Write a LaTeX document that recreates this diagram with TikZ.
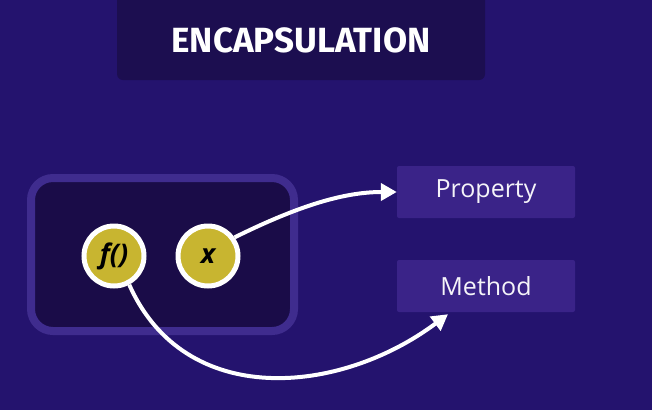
\documentclass[tikz,border=0pt]{standalone}
\usepackage{fontspec}
\setmainfont{Open Sans}
\newfontfamily\titlefont{Fira Sans}
\usetikzlibrary{arrows.meta,calc}
\definecolor{bgpurple}{HTML}{24136E}
\definecolor{darkbox}{HTML}{1C0E50}
\definecolor{innerbox}{HTML}{1A0C48}
\definecolor{framecol}{HTML}{3F2C8E}
\definecolor{labelbox}{HTML}{3A2388}
\definecolor{gold}{HTML}{C8B530}
\tikzset{
  dot/.style={circle, draw=white, line width=5pt, fill=gold, minimum size=60pt, inner sep=0pt,
    font=\fontsize{27}{27}\selectfont\bfseries\itshape, text=black},
  labelnode/.style={fill=labelbox, minimum width=178pt, minimum height=52pt, rounded corners=2pt,
    text=white!95!labelbox, font=\fontsize{25}{25}\selectfont},
  conn/.style={draw=white, line width=4pt, -{Triangle[length=16pt,width=17pt]}}
}
\begin{document}
\begin{tikzpicture}[x=1pt,y=-1pt]
\fill[bgpurple] (0,0) rectangle (652,410);
\useasboundingbox (0,0) rectangle (652,410);
% title
\fill[darkbox, rounded corners=6pt] (117,-10) rectangle (485,80);
\node[text=white, font=\titlefont\fontsize{35}{35}\selectfont\bfseries] (title) at (301,40) {ENCAPSULATION};
% container
\draw[framecol, line width=8pt, fill=innerbox, rounded corners=22pt] (31,178) rectangle (294,331);
% circles
\node[dot] (f) at (114,256) {f()};
\node[dot] (x) at (208,256) {x};
% labels
\node[labelnode] (prop) at (486,192) {Property};
\node[labelnode] (meth) at (486,286) {Method};
% connectors
\draw[conn] (x.35) .. controls (300,205) and (345,192) .. (prop.west);
\draw[conn] (f.-62) .. controls (185,410) and (340,395) .. ($(meth.south)+(-38,2)$);
\end{tikzpicture}
\end{document}
